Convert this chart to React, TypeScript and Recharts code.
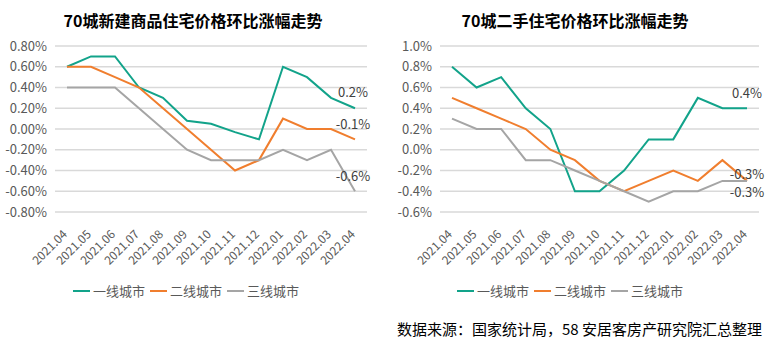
import React from "react";
import { LineChart, Line, XAxis, YAxis, CartesianGrid, LabelList } from "recharts";

const months = ["2021.04", "2021.05", "2021.06", "2021.07", "2021.08", "2021.09", "2021.10", "2021.11", "2021.12", "2022.01", "2022.02", "2022.03", "2022.04"];
const seriesNames = ["一线城市", "二线城市", "三线城市"];
const colors = ["#12A38A", "#F07E2E", "#A5A5A5"];

const newTier1 = [0.6, 0.7, 0.7, 0.4, 0.3, 0.08, 0.05, -0.03, -0.1, 0.6, 0.5, 0.3, 0.2];
const newTier2 = [0.6, 0.6, 0.5, 0.4, 0.2, 0.0, -0.2, -0.4, -0.3, 0.1, 0.0, 0.0, -0.1];
const newTier3 = [0.4, 0.4, 0.4, 0.2, 0.0, -0.2, -0.3, -0.3, -0.3, -0.2, -0.3, -0.2, -0.6];

const usedTier1 = [0.8, 0.6, 0.7, 0.4, 0.2, -0.4, -0.4, -0.2, 0.1, 0.1, 0.5, 0.4, 0.4];
const usedTier2 = [0.5, 0.4, 0.3, 0.2, 0.0, -0.1, -0.3, -0.4, -0.3, -0.2, -0.3, -0.1, -0.3];
const usedTier3 = [0.3, 0.2, 0.2, -0.1, -0.1, -0.2, -0.3, -0.4, -0.5, -0.4, -0.4, -0.3, -0.3];

const leftTicks = [-0.8, -0.6, -0.4, -0.2, 0, 0.2, 0.4, 0.6, 0.8];
const rightTicks = [-0.6, -0.4, -0.2, 0, 0.2, 0.4, 0.6, 0.8, 1.0];

const leftTitle = "70城新建商品住宅价格环比涨幅走势";
const rightTitle = "70城二手住宅价格环比涨幅走势";
const sourceText = "数据来源：国家统计局，58 安居客房产研究院汇总整理";

const FONT = "'Noto Sans CJK SC', 'Noto Sans', sans-serif";

const build = (a: number[], b: number[], c: number[]) =>
  months.map((m, i) => ({ month: m, t1: a[i], t2: b[i], t3: c[i] }));

const leftData = build(newTier1, newTier2, newTier3);
const rightData = build(usedTier1, usedTier2, usedTier3);

const XTick = (props: any) => {
  const { x, y, payload } = props;
  const tx = x + 1;
  const ty = y + 15;
  return (
    <text x={tx} y={ty} transform={`rotate(-45 ${tx} ${ty})`} textAnchor="end" fill="#595959" fontSize={12} fontFamily={FONT}>
      {payload.value}
    </text>
  );
};

const makeEndLabel = (last: number, dy: number, dx: number) => (props: any) => {
  const { x, y, index, value } = props;
  if (index !== last) return null;
  return (
    <text x={x + dx} y={y + dy} textAnchor="middle" fill="#404040" fontSize={13} fontFamily={FONT}>
      {`${value}%`}
    </text>
  );
};

const Legend = ({ left }: { left: number }) => (
  <div style={{ position: "absolute", left, top: 281, display: "flex", alignItems: "center", fontFamily: FONT, fontSize: 13, color: "#595959" }}>
    {seriesNames.map((n, i) => (
      <div key={n} style={{ display: "flex", alignItems: "center", marginRight: 5 }}>
        <div style={{ width: 17, height: 2, background: colors[i], marginRight: 3 }} />
        <span>{n}</span>
      </div>
    ))}
  </div>
);

const Chart = ({ data, ticks, digits, yWidth, width, plotW, labels }: any) => (
  <LineChart width={width} height={300} data={data} margin={{ top: 46, right: width - yWidth - plotW, left: 0, bottom: 0 }}>
    <CartesianGrid vertical={false} stroke="#D9D9D9" strokeWidth={1.5} />
    <XAxis dataKey="month" interval={0} axisLine={false} tickLine={false} padding={{ left: 12, right: 12 }} height={88} tick={<XTick />} />
    <YAxis
      type="number"
      domain={[ticks[0], ticks[ticks.length - 1]]}
      ticks={ticks}
      interval={0}
      width={yWidth}
      axisLine={false}
      tickLine={false}
      tick={{ fill: "#595959", fontSize: 13, fontFamily: FONT }}
      tickFormatter={(v: number) => `${v.toFixed(digits)}%`}
    />
    {["t1", "t2", "t3"].map((k, i) => (
      <Line key={k} type="linear" dataKey={k} stroke={colors[i]} strokeWidth={2} dot={false} isAnimationActive={false}>
        <LabelList dataKey={k} content={makeEndLabel(months.length - 1, labels[i][0], labels[i][1])} />
      </Line>
    ))}
  </LineChart>
);

export default function App() {
  return (
    <div style={{ position: "absolute", left: 0, top: 0, width: 767, height: 343, background: "#fff", fontFamily: FONT }}>
      <div style={{ position: "absolute", left: 0, top: 8, width: 386, textAlign: "center", fontWeight: "bold", fontSize: 16, color: "#000" }}>{leftTitle}</div>
      <div style={{ position: "absolute", left: 383, top: 8, width: 384, textAlign: "center", fontWeight: "bold", fontSize: 16, color: "#000" }}>{rightTitle}</div>
      <div style={{ position: "absolute", left: 0, top: 0 }}>
        <Chart data={leftData} ticks={leftTicks} digits={2} yWidth={55} width={383} plotW={312} labels={[[-11, -2], [-10, -2], [-10, -2]]} />
      </div>
      <div style={{ position: "absolute", left: 383, top: 0 }}>
        <Chart data={rightData} ticks={rightTicks} digits={1} yWidth={57} width={384} plotW={319} labels={[[-10, 0], [-2, 0], [16, 0]]} />
      </div>
      <Legend left={73} />
      <Legend left={457} />
      <div style={{ position: "absolute", right: 5, top: 318, fontSize: 15, color: "#000" }}>{sourceText}</div>
    </div>
  );
}
